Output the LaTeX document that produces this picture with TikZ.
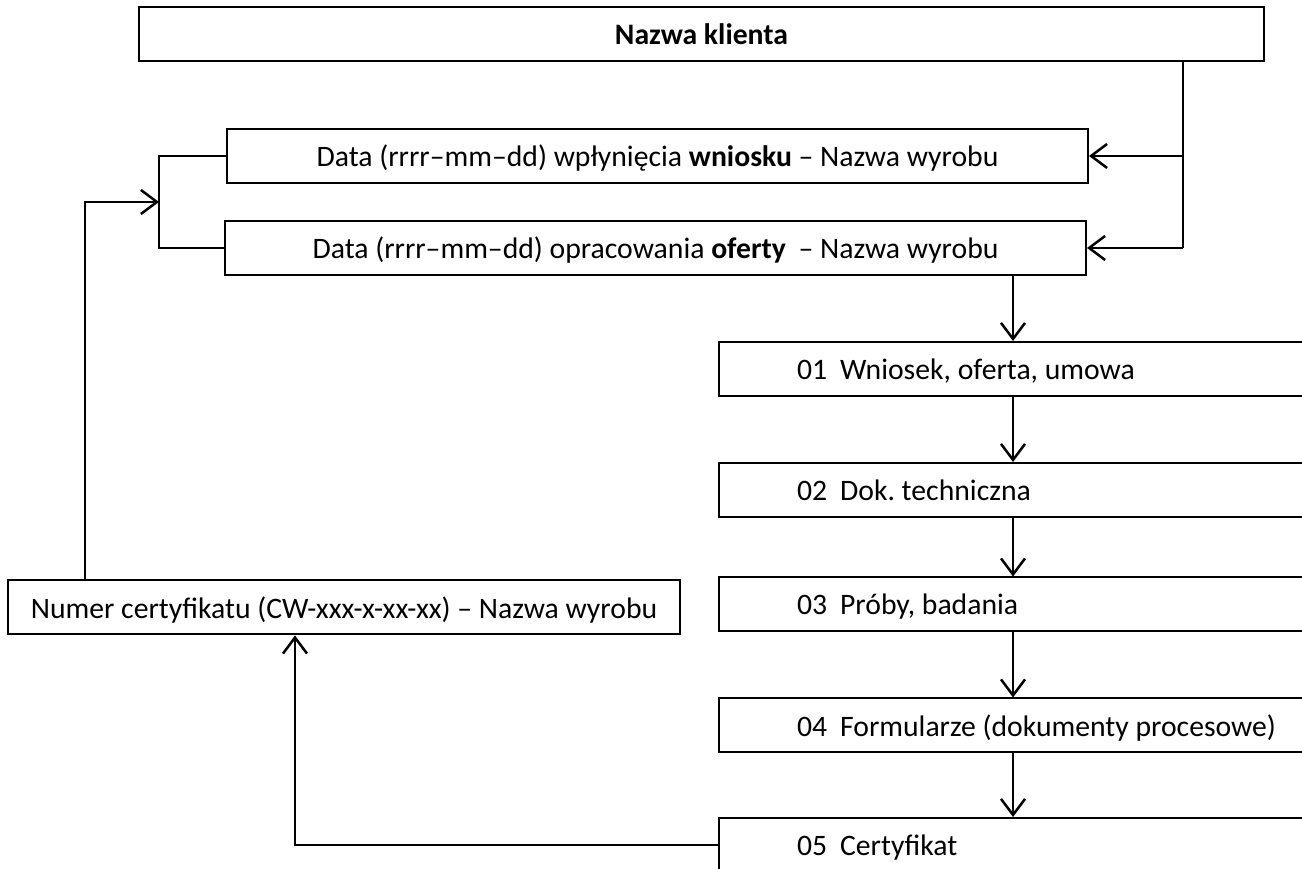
\documentclass[tikz,border=0pt]{standalone}
\usepackage{fontspec}
\setmainfont{Carlito}
\usetikzlibrary{arrows.meta,calc}
\frenchspacing
\tikzset{
  box/.style={draw, line width=2pt, inner sep=0pt, minimum height=54pt, text depth=0pt,
    font=\fontsize{29.7}{34}\selectfont},
  stepbox/.style={box, minimum width=601pt, text width=601pt, align=flush left},
  conn/.style={line width=2pt},
  arr/.style={line width=2.5pt, -{Straight Barb[length=16pt,width=24pt,line width=2.5pt]}}
}
\newcommand{\stepnum}[1]{\hspace*{78pt}#1\hspace{13pt}}
\begin{document}
\begin{tikzpicture}[x=1pt,y=1pt]
\clip (0,0) rectangle (1302,869);
\fill[white] (0,0) rectangle (1302,869);
% boxes
\node[box, minimum width=1125pt] (kl) at (701.5,835) {\textbf{Nazwa klienta}};
\node[box, minimum width=861pt] (wn) at (657.5,713) {Data (rrrr–mm–dd) wpłynięcia \textbf{wniosku} – Nazwa wyrobu};
\node[box, minimum width=861pt] (of) at (655.5,621) {Data (rrrr–mm–dd) opracowania \textbf{oferty}\hspace{6pt} – Nazwa wyrobu};
\node[stepbox] (s1) at (1019.5,500) {\stepnum{01}Wniosek, oferta, umowa};
\node[stepbox] (s2) at (1019.5,379) {\stepnum{02}Dok. techniczna};
\node[stepbox] (s3) at (1019.5,264.5) {\stepnum{03}Próby, badania};
\node[stepbox] (s4) at (1019.5,143.5) {\stepnum{04}Formularze (dokumenty procesowe)};
\node[stepbox] (s5) at (1019.5,24) {\stepnum{05}Certyfikat};
\node[box, minimum width=672pt] (nr) at (344,261.5) {Numer certyfikatu (CW-xxx-x-xx-xx) – Nazwa wyrobu};
% helper coordinates
\coordinate (xr) at (1183,0);
\coordinate (bx) at (159,0);
\coordinate (jn) at (159,667);
\coordinate (lx) at (85,0);
\coordinate (dx) at (1013,0);
\coordinate (ux) at (295,0);
% connectors
\draw[conn] (kl.south -| xr) -- (xr |- of.east);
\draw[arr] (xr |- wn.east) -- (wn.east);
\draw[arr] (xr |- of.east) -- (of.east);
\draw[conn] (wn.west) -- (wn.west -| bx) -- (of.west -| bx) -- (of.west);
\draw[arr] (lx |- nr.north) |- (jn);
\draw[arr] (dx |- of.south) -- (dx |- s1.north);
\draw[arr] (dx |- s1.south) -- (dx |- s2.north);
\draw[arr] (dx |- s2.south) -- (dx |- s3.north);
\draw[arr] (dx |- s3.south) -- (dx |- s4.north);
\draw[arr] (dx |- s4.south) -- (dx |- s5.north);
\draw[arr] (s5.west) -| (ux |- nr.south);
\end{tikzpicture}
\end{document}
